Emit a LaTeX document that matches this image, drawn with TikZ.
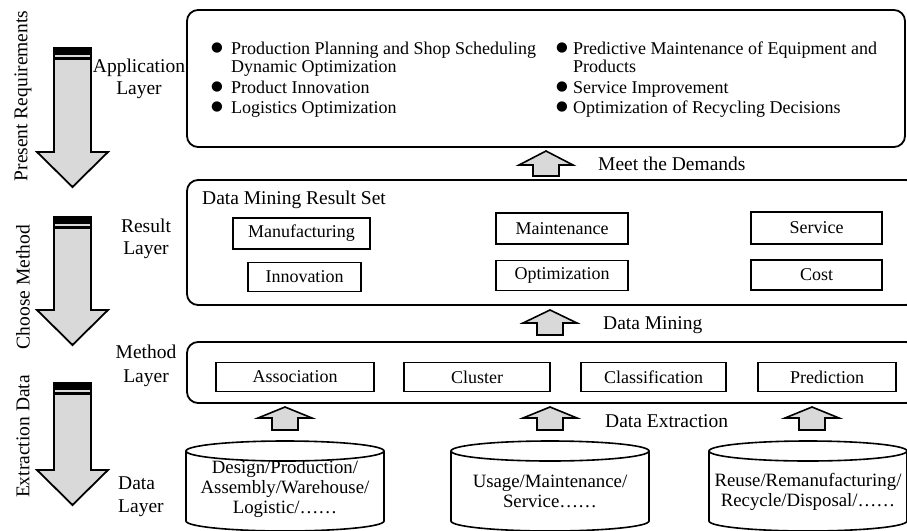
\documentclass[tikz,border=0pt]{standalone}
\usepackage{fontspec}
\setmainfont{Liberation Serif}
\newfontfamily\symfont{DejaVu Sans}
% up-pointing block arrow: tip x, tip y, head base y, bottom y
\newcommand\upblock[4]{%
  \draw[blockarrow] (#1,#2) -- ({#1+27},#3) -- ({#1+13},#3) -- ({#1+13},#4)
    -- ({#1-13},#4) -- ({#1-13},#3) -- ({#1-27},#3) -- cycle;}
% big down arrow on the left: top y, head base y, tip y
\newcommand\downblock[3]{%
  \draw[bigarrow] (54,#1) -- (91,#1) -- (91,#2) -- (108,#2) -- (72.5,#3)
    -- (37,#2) -- (54,#2) -- cycle;
  \fill (54,#1) rectangle (91,{#1+7});
  \fill (54,{#1+9}) rectangle (91,{#1+12});}
% cylinder: centre x
\newcommand\datacyl[1]{%
  \draw[cylline] ({#1-99},451) -- ({#1-99},521)
    arc[start angle=180,end angle=360,x radius=99pt,y radius=10pt]
    -- ({#1+99},451);
  \draw[cylline] (#1,451) ellipse [x radius=99pt, y radius=10pt];}
\begin{document}
\begin{tikzpicture}[x=1pt,y=-1pt,
  font=\fontsize{18}{20}\selectfont,
  layerbox/.style={draw, line width=1.8pt, rounded corners=11pt, inner sep=0pt},
  itembox/.style={draw, line width=1.6pt, inner sep=0pt},
  lbl/.style={font=\fontsize{19.5}{22}\selectfont, inner sep=0pt},
  blockarrow/.style={draw, line width=1.6pt, fill=gray!30, line join=miter},
  bigarrow/.style={draw, line width=1.8pt, fill=gray!30},
  cylline/.style={line width=1.6pt},
  cyltxt/.style={font=\fontsize{18.8}{20}\selectfont, align=center, inner sep=0pt},
  bul/.style={font=\symfont\fontsize{13.5}{13.5}\selectfont, inner sep=0pt},
  itemtxt/.style={anchor=base west, inner sep=0pt},
]
\useasboundingbox (0,0) rectangle (907,530);
\clip (0,0) rectangle (907,530);

% ---------- layer frames ----------
\node[layerbox, minimum width=718pt, minimum height=137pt] (app) at (546,78.5) {};
\node[layerbox, minimum width=730pt, minimum height=125pt] (res) at (552,242.5) {};
\node[layerbox, minimum width=730pt, minimum height=61pt] (met) at (552,372.5) {};

% ---------- application layer ----------
\node[bul] (b1) at (217,48) {●};
\node[itemtxt] (t1a) at (231,54) {Production Planning and Shop Scheduling};
\node[itemtxt] (t1b) at (231,72) {Dynamic Optimization};
\node[bul] (b2) at (217,87) {●};
\node[itemtxt] (t2) at (231,93) {Product Innovation};
\node[bul] (b3) at (217,107) {●};
\node[itemtxt] (t3) at (231,113) {Logistics Optimization};
\node[bul] (b4) at (562,48) {●};
\node[itemtxt] (t4a) at (573,54) {Predictive Maintenance of Equipment and};
\node[itemtxt] (t4b) at (573,72) {Products};
\node[bul] (b5) at (562,87) {●};
\node[itemtxt] (t5) at (573,93) {Service Improvement};
\node[bul] (b6) at (562,107) {●};
\node[itemtxt] (t6) at (573,113) {Optimization of Recycling Decisions};

% ---------- result layer ----------
\node[lbl, anchor=base west] (dmrs) at (202,204) {Data Mining Result Set};
\node[itembox, minimum width=137pt, minimum height=31pt] (manu) at (301.5,233.5) {Manufacturing};
\node[itembox, minimum width=113pt, minimum height=29pt] (inno) at (304.5,277) {Innovation};
\node[itembox, minimum width=132pt, minimum height=31pt] (main) at (562,228.5) {Maintenance};
\node[itembox, minimum width=132pt, minimum height=30pt] (opti) at (562,275.5) {Optimization};
\node[itembox, minimum width=131pt, minimum height=32pt] (serv) at (816.5,228) {Service};
\node[itembox, minimum width=131pt, minimum height=30pt] (cost) at (816.5,275) {Cost};

% ---------- method layer ----------
\node[itembox, minimum width=158pt, minimum height=29pt] (asso) at (295,377) {Association};
\node[itembox, minimum width=146pt, minimum height=29pt] (clus) at (477,377) {Cluster};
\node[itembox, minimum width=145pt, minimum height=29pt] (clas) at (653.5,377) {Classification};
\node[itembox, minimum width=138pt, minimum height=29pt] (pred) at (827,377) {Prediction};

% ---------- data layer ----------
\datacyl{285}
\datacyl{550}
\datacyl{808}
\node[cyltxt] (d1) at (285,489) {Design/Production/\\Assembly/Warehouse/\\Logistic/……};
\node[cyltxt] (d2) at (550,491) {Usage/Maintenance/\\Service……};
\node[cyltxt] (d3) at (808,492) {Reuse/Remanufacturing/\\Recycle/Disposal/……};

% ---------- block arrows between layers ----------
\upblock{546}{151}{165}{176}
\node[lbl, anchor=base west] (meet) at (598,170) {Meet the Demands};
\upblock{550}{310}{323}{335}
\node[lbl, anchor=base west] (dmin) at (603,329) {Data Mining};
\upblock{285}{407}{418}{430}
\upblock{550}{407}{418}{430}
\upblock{812}{407}{418}{430}
\node[lbl, anchor=base west] (dext) at (605,427) {Data Extraction};

% ---------- layer names ----------
\node[lbl, align=center] (lapp) at (139,79) {Application\\Layer};
\node[lbl, align=center] (lres) at (146,239) {Result\\Layer};
\node[lbl, align=center, font=\fontsize{19.5}{23.5}\selectfont] (lmet) at (146,366) {Method\\Layer};
\node[lbl, align=left, anchor=west, font=\fontsize{19.5}{23}\selectfont] (ldat) at (118,497) {Data\\Layer};

% ---------- left process arrows ----------
\downblock{48}{152}{187}
\downblock{217}{310}{345}
\downblock{383}{470}{505}
\node[lbl, rotate=90] (s1) at (23,96) {Present Requirements};
\node[lbl, rotate=90] (s2) at (23,287) {Choose Method};
\node[lbl, rotate=90] (s3) at (23,436.5) {Extraction Data};
\end{tikzpicture}
\end{document}
